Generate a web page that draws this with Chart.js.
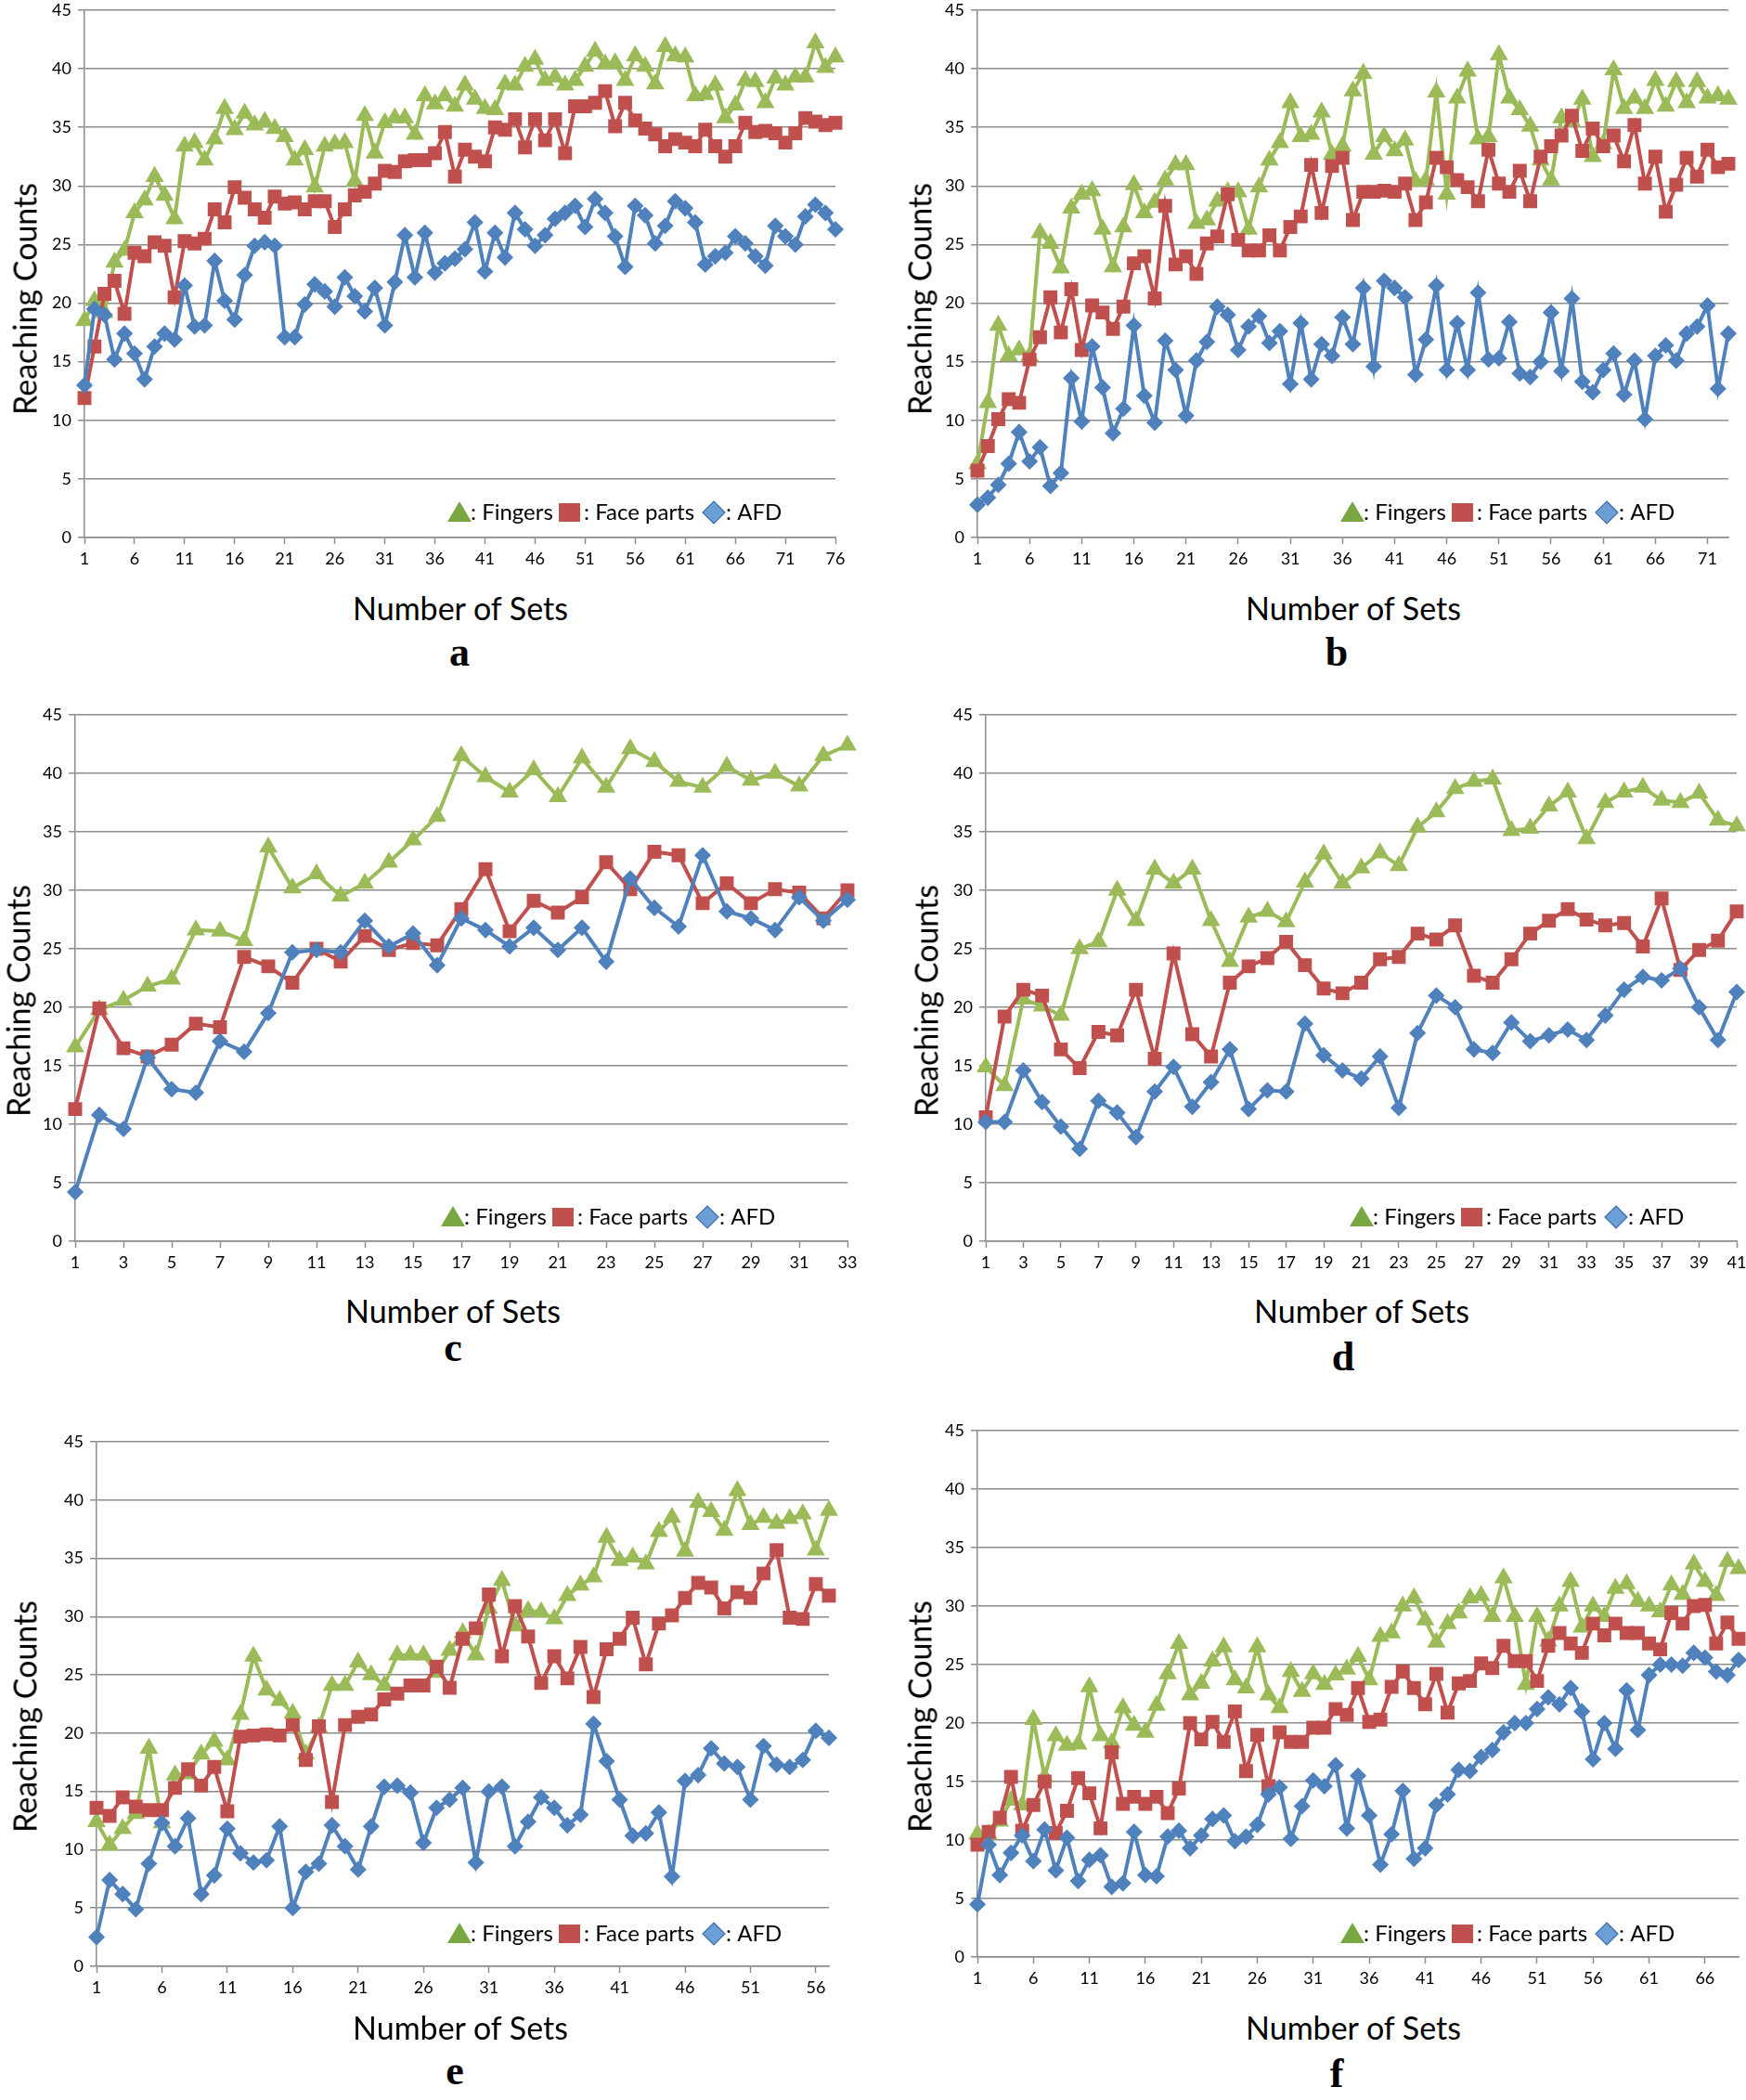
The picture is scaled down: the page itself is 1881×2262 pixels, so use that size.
<!DOCTYPE html>
<html>
<head>
<meta charset="utf-8">
<script src="https://cdn.jsdelivr.net/npm/chart.js@4.4.1/dist/chart.umd.min.js"></script>
<style>
  body { margin: 0; background: #fff; width: 1881px; height: 2262px; position: relative; overflow: hidden; font-family: Lato, sans-serif; }
  canvas { position: absolute; }
  .xtitle { position: absolute; font-size: 34px; color: #000; transform: translate(-50%, -50%); white-space: nowrap; }
  .ytitle { position: absolute; font-size: 34px; color: #000; transform: translate(-50%, -50%) rotate(-90deg); white-space: nowrap; }
  .letter { position: absolute; font: bold 44px "Liberation Serif", serif; transform: translate(-50%, -50%); }
</style>
</head>
<body>
<script>
// panel a
const aFingers = [18.5, 20.2, 19.2, 23.5, 24.5, 27.7, 28.8, 30.8, 29.2, 27.2,
  33.4, 33.7, 32.2, 34.0, 36.6, 34.8, 36.2, 35.2, 35.5, 34.9,
  34.2, 32.2, 33.1, 29.9, 33.4, 33.6, 33.7, 30.4, 36.0, 32.8,
  35.4, 35.8, 35.8, 34.4, 37.7, 37.0, 37.7, 36.8, 38.6, 37.4,
  36.6, 36.5, 38.7, 38.6, 40.2, 40.8, 39.0, 39.3, 38.6, 39.0,
  40.2, 41.5, 40.4, 40.5, 39.0, 41.1, 40.2, 38.7, 41.9, 41.1,
  41.0, 37.7, 37.8, 38.6, 35.8, 36.9, 39.0, 38.9, 37.1, 39.2,
  38.6, 39.3, 39.3, 42.2, 40.1, 41.0];
const aFace = [11.9, 16.3, 20.8, 21.9, 19.1, 24.3, 24.0, 25.2, 24.9, 20.5,
  25.3, 25.1, 25.5, 28.0, 26.9, 29.9, 29.0, 28.0, 27.3, 29.1,
  28.5, 28.6, 28.0, 28.7, 28.7, 26.5, 28.0, 29.2, 29.5, 30.2,
  31.3, 31.2, 32.1, 32.2, 32.2, 32.8, 34.6, 30.8, 33.1, 32.5,
  32.1, 35.0, 34.8, 35.7, 33.3, 35.7, 33.9, 35.7, 32.8, 36.8,
  36.8, 37.1, 38.1, 35.1, 37.1, 35.6, 34.9, 34.4, 33.4, 34.0,
  33.7, 33.4, 34.8, 33.4, 32.5, 33.4, 35.4, 34.6, 34.7, 34.5,
  33.7, 34.5, 35.8, 35.5, 35.2, 35.4];
const aAfd = [13.0, 19.5, 19.0, 15.2, 17.4, 15.7, 13.5, 16.3, 17.4, 16.9,
  21.5, 18.0, 18.1, 23.6, 20.2, 18.6, 22.4, 24.9, 25.2, 24.9,
  17.1, 17.1, 19.9, 21.6, 21.0, 19.7, 22.2, 20.6, 19.3, 21.3,
  18.1, 21.8, 25.8, 22.2, 26.0, 22.6, 23.4, 23.8, 24.6, 26.9,
  22.7, 26.0, 23.9, 27.7, 26.3, 24.9, 25.8, 27.2, 27.7, 28.3,
  26.5, 28.9, 27.7, 25.7, 23.1, 28.3, 27.5, 25.1, 26.6, 28.7,
  28.1, 26.9, 23.3, 24.0, 24.3, 25.7, 25.1, 24.0, 23.2, 26.6,
  25.7, 25.0, 27.4, 28.4, 27.7, 26.3];

// panel b
const bFingers = [6.3, 11.5, 18.1, 15.5, 16.0, 15.5, 26.0, 25.1, 23.0, 28.1,
  29.3, 29.6, 26.3, 23.1, 26.5, 30.1, 27.7, 28.6, 30.5, 31.8,
  31.8, 26.8, 27.1, 28.7, 29.5, 29.5, 26.3, 29.9, 32.2, 33.7,
  37.1, 34.2, 34.4, 36.3, 32.7, 33.4, 38.1, 39.6, 32.7, 34.2,
  33.0, 33.9, 30.4, 30.5, 38.0, 29.3, 37.5, 39.8, 34.0, 34.2,
  41.2, 37.5, 36.5, 35.1, 32.2, 30.5, 35.8, 35.5, 37.4, 32.5,
  33.6, 39.9, 36.6, 37.5, 36.6, 39.0, 36.8, 38.9, 37.1, 38.9,
  37.5, 37.7, 37.4];
const bFace = [5.7, 7.8, 10.1, 11.8, 11.5, 15.2, 17.1, 20.5, 17.5, 21.2,
  16.0, 19.8, 19.2, 17.8, 19.7, 23.4, 24.0, 20.4, 28.3, 23.3,
  24.0, 22.5, 25.1, 25.7, 29.3, 25.4, 24.5, 24.5, 25.8, 24.5,
  26.5, 27.4, 31.8, 27.7, 31.7, 32.4, 27.1, 29.5, 29.5, 29.6,
  29.5, 30.2, 27.1, 28.6, 32.4, 31.6, 30.5, 29.9, 28.7, 33.1,
  30.2, 29.5, 31.3, 28.7, 32.5, 33.4, 34.3, 36.0, 33.0, 34.9,
  33.4, 34.3, 32.1, 35.2, 30.2, 32.5, 27.8, 30.1, 32.4, 30.8,
  33.1, 31.6, 31.9];
const bAfd = [2.8, 3.4, 4.5, 6.3, 9.0, 6.5, 7.7, 4.4, 5.5, 13.6,
  9.9, 16.3, 12.8, 8.9, 11.0, 18.1, 12.1, 9.8, 16.8, 14.3,
  10.4, 15.1, 16.7, 19.7, 19.0, 16.0, 18.0, 18.9, 16.6, 17.6,
  13.1, 18.3, 13.5, 16.5, 15.5, 18.8, 16.5, 21.3, 14.6, 21.9,
  21.3, 20.5, 13.9, 16.9, 21.5, 14.3, 18.3, 14.3, 20.9, 15.2,
  15.3, 18.4, 14.0, 13.7, 15.0, 19.2, 14.2, 20.4, 13.3, 12.4,
  14.3, 15.7, 12.2, 15.1, 10.1, 15.5, 16.4, 15.1, 17.4, 18.0,
  19.8, 12.7, 17.4];

// panel c
const cFingers = [16.6, 19.8, 20.6, 21.8, 22.4, 26.6, 26.5, 25.7, 33.7, 30.2,
  31.4, 29.5, 30.6, 32.4, 34.3, 36.3, 41.5, 39.7, 38.4, 40.3,
  38.0, 41.3, 38.8, 42.1, 41.0, 39.3, 38.8, 40.6, 39.4, 40.0,
  38.9, 41.5, 42.4];
const cFace = [11.3, 19.9, 16.5, 15.8, 16.8, 18.6, 18.3, 24.3, 23.5, 22.1,
  25.0, 23.9, 26.1, 24.9, 25.5, 25.3, 28.4, 31.8, 26.5, 29.1,
  28.1, 29.4, 32.4, 30.1, 33.3, 33.0, 28.9, 30.6, 28.9, 30.1,
  29.8, 27.6, 30.0];
const cAfd = [4.2, 10.8, 9.6, 15.7, 13.0, 12.7, 17.1, 16.2, 19.5, 24.7,
  24.9, 24.7, 27.4, 25.2, 26.3, 23.6, 27.6, 26.6, 25.2, 26.8,
  24.9, 26.8, 23.9, 31.0, 28.5, 26.9, 33.0, 28.2, 27.6, 26.6,
  29.4, 27.4, 29.2];

// panel d
const dFingers = [14.9, 13.3, 20.7, 20.1, 19.3, 25.0, 25.6, 30.0, 27.4, 31.8,
  30.6, 31.8, 27.4, 23.9, 27.7, 28.2, 27.3, 30.7, 33.1, 30.6,
  31.9, 33.2, 32.1, 35.4, 36.7, 38.7, 39.3, 39.5, 35.1, 35.3,
  37.2, 38.4, 34.4, 37.5, 38.4, 38.8, 37.7, 37.5, 38.3, 36.0,
  35.5];
const dFace = [10.6, 19.2, 21.5, 21.0, 16.4, 14.8, 17.9, 17.6, 21.5, 15.6,
  24.6, 17.7, 15.8, 22.1, 23.5, 24.2, 25.6, 23.6, 21.6, 21.2,
  22.1, 24.1, 24.3, 26.3, 25.8, 27.0, 22.7, 22.1, 24.1, 26.3,
  27.4, 28.4, 27.5, 27.0, 27.2, 25.2, 29.3, 23.2, 24.9, 25.7,
  28.2];
const dAfd = [10.2, 10.2, 14.6, 11.9, 9.8, 7.9, 12.0, 11.0, 8.9, 12.8,
  14.9, 11.5, 13.6, 16.4, 11.3, 12.9, 12.8, 18.6, 15.9, 14.6,
  13.9, 15.8, 11.4, 17.8, 21.0, 20.0, 16.4, 16.1, 18.7, 17.1,
  17.6, 18.1, 17.2, 19.3, 21.5, 22.6, 22.3, 23.3, 20.0, 17.2,
  21.3];

// panel e
const eFingers = [12.4, 10.4, 11.8, 13.1, 18.7, 12.3, 16.4, 16.5, 18.2, 19.3,
  17.7, 21.6, 26.6, 23.7, 22.8, 21.7, 18.2, 20.5, 24.1, 24.1,
  26.1, 25.0, 24.1, 26.7, 26.7, 26.7, 25.2, 27.1, 28.6, 26.7,
  30.7, 33.1, 29.2, 30.5, 30.4, 29.8, 31.8, 32.7, 33.4, 36.8,
  34.8, 35.1, 34.5, 37.3, 38.5, 35.6, 39.8, 39.0, 37.4, 40.8,
  37.9, 38.5, 38.0, 38.4, 38.8, 35.7, 39.1];
const eFace = [13.6, 12.9, 14.5, 13.7, 13.4, 13.4, 15.3, 16.9, 15.5, 17.1,
  13.3, 19.7, 19.8, 19.9, 19.8, 20.7, 17.7, 20.6, 14.1, 20.7,
  21.4, 21.6, 22.9, 23.4, 24.1, 24.1, 25.7, 23.9, 28.1, 29.0,
  31.9, 26.6, 30.9, 28.3, 24.3, 26.6, 24.7, 27.4, 23.1, 27.2,
  28.1, 29.9, 25.9, 29.4, 30.1, 31.6, 32.9, 32.5, 30.7, 32.1,
  31.6, 33.7, 35.7, 29.9, 29.8, 32.8, 31.8];
const eAfd = [2.5, 7.4, 6.2, 4.9, 8.8, 12.3, 10.3, 12.7, 6.2, 7.8,
  11.8, 9.7, 8.9, 9.1, 12.0, 5.0, 8.1, 8.8, 12.1, 10.3,
  8.3, 12.0, 15.4, 15.5, 14.9, 10.6, 13.6, 14.3, 15.3, 8.9,
  15.0, 15.4, 10.3, 12.4, 14.5, 13.6, 12.1, 13.0, 20.8, 17.6,
  14.3, 11.2, 11.4, 13.2, 7.7, 15.9, 16.4, 18.7, 17.4, 17.1,
  14.3, 18.9, 17.3, 17.1, 17.7, 20.2, 19.6];

// panel f
const fFingers = [10.5, 10.5, 11.6, 13.4, 13.0, 20.3, 15.4, 18.9, 18.1, 18.2,
  23.1, 18.9, 18.3, 21.3, 19.8, 19.2, 21.5, 24.2, 26.8, 22.4,
  23.4, 25.3, 26.5, 23.7, 23.0, 26.5, 22.4, 21.3, 24.4, 22.7,
  24.2, 23.3, 24.1, 24.6, 25.7, 23.7, 27.4, 27.7, 30.0, 30.7,
  28.8, 26.9, 28.5, 29.4, 30.7, 30.9, 29.1, 32.4, 29.1, 23.3,
  29.1, 27.0, 30.0, 32.1, 28.2, 30.0, 29.1, 31.5, 31.9, 30.4,
  30.0, 29.5, 31.8, 31.0, 33.6, 32.1, 30.9, 33.8, 33.2];
const fFace = [9.6, 10.7, 11.9, 15.4, 10.8, 13.0, 15.0, 10.6, 12.5, 15.3,
  14.0, 11.0, 17.5, 13.1, 13.7, 13.1, 13.7, 12.3, 14.4, 20.0,
  18.6, 20.1, 18.4, 21.0, 15.9, 19.0, 14.6, 19.2, 18.4, 18.4,
  19.6, 19.6, 21.2, 20.7, 23.0, 20.1, 20.3, 23.1, 24.4, 23.0,
  21.6, 24.2, 20.9, 23.4, 23.6, 25.1, 24.7, 26.6, 25.3, 25.3,
  23.6, 26.6, 27.7, 26.8, 26.0, 28.5, 27.5, 28.5, 27.7, 27.7,
  26.8, 26.3, 29.4, 28.5, 30.0, 30.1, 26.8, 28.6, 27.2];
const fAfd = [4.5, 9.6, 7.0, 8.9, 10.4, 8.2, 10.9, 7.4, 10.2, 6.5,
  8.3, 8.7, 6.0, 6.3, 10.7, 7.0, 6.9, 10.3, 10.8, 9.3,
  10.4, 11.8, 12.1, 9.9, 10.3, 11.3, 13.9, 14.5, 10.1, 12.9,
  15.1, 14.6, 16.4, 11.0, 15.5, 12.1, 7.9, 10.5, 14.2, 8.4,
  9.3, 13.0, 13.9, 16.0, 15.9, 17.1, 17.7, 19.2, 20.0, 20.0,
  21.2, 22.2, 21.6, 23.0, 21.0, 16.9, 20.0, 17.8, 22.8, 19.4,
  24.1, 25.0, 25.0, 24.9, 26.0, 25.6, 24.4, 24.1, 25.4];

const yTicks = [0, 5, 10, 15, 20, 25, 30, 35, 40, 45];
const seriesNames = ["Fingers", "Face parts", "AFD"];
const xTitle = "Number of Sets";
const yTitle = "Reaching Counts";

const GREEN = "#9bbb59";
const RED = "#c0504d";
const BLUE = "#4f81bd";
const GRID = "#8c8c8c";

Chart.defaults.font.family = "Lato, sans-serif";

// plot box = chart area in page pixels
const panels = [
  { letter: "a", fingers: aFingers, face: aFace, afd: aAfd, step: 5,
    box: { l: 91, t: 11, r: 900, b: 579 }, legend: { x: 495, y: 552 },
    xt: { x: 496, y: 654 }, yt: { x: 26, y: 322 }, lt: { x: 495, y: 702 } },
  { letter: "b", fingers: bFingers, face: bFace, afd: bAfd, step: 5,
    box: { l: 1053, t: 11, r: 1862, b: 579 }, legend: { x: 1457, y: 552 },
    xt: { x: 1458, y: 654 }, yt: { x: 990, y: 322 }, lt: { x: 1440, y: 702 } },
  { letter: "c", fingers: cFingers, face: cFace, afd: cAfd, step: 2,
    box: { l: 81, t: 770, r: 913, b: 1337 }, legend: { x: 488, y: 1311 },
    xt: { x: 488, y: 1411 }, yt: { x: 19, y: 1078 }, lt: { x: 488, y: 1451 } },
  { letter: "d", fingers: dFingers, face: dFace, afd: dAfd, step: 2,
    box: { l: 1062, t: 770, r: 1871, b: 1337 }, legend: { x: 1467, y: 1311 },
    xt: { x: 1467, y: 1411 }, yt: { x: 997, y: 1078 }, lt: { x: 1447, y: 1461 } },
  { letter: "e", fingers: eFingers, face: eFace, afd: eAfd, step: 5,
    box: { l: 104, t: 1553, r: 893, b: 2118 }, legend: { x: 495, y: 2083 },
    xt: { x: 496, y: 2183 }, yt: { x: 26, y: 1849 }, lt: { x: 490, y: 2230 } },
  { letter: "f", fingers: fFingers, face: fFace, afd: fAfd, step: 5,
    box: { l: 1053, t: 1541, r: 1873, b: 2108 }, legend: { x: 1457, y: 2083 },
    xt: { x: 1458, y: 2183 }, yt: { x: 990, y: 1849 }, lt: { x: 1440, y: 2233 } },
];

// legend drawn inside the plot area, like the original
const insideLegend = {
  id: "insideLegend",
  afterDatasetsDraw(chart, args, opts) {
    const ctx = chart.ctx;
    const x = opts.x, y = opts.y;
    ctx.save();
    ctx.font = "24px Lato, sans-serif";
    ctx.textBaseline = "middle";

    ctx.beginPath();
    ctx.moveTo(x, y - 12);
    ctx.lineTo(x + 13, y + 10);
    ctx.lineTo(x - 13, y + 10);
    ctx.closePath();
    ctx.fillStyle = "#78a640";
    ctx.fill();
    ctx.fillStyle = "#000";
    ctx.fillText(": " + seriesNames[0], x + 12, y);

    ctx.fillStyle = RED;
    ctx.fillRect(x + 107, y - 10, 23, 20);
    ctx.fillStyle = "#000";
    ctx.fillText(": " + seriesNames[1], x + 134, y);

    ctx.beginPath();
    ctx.moveTo(x + 274, y - 12);
    ctx.lineTo(x + 286, y);
    ctx.lineTo(x + 274, y + 12);
    ctx.lineTo(x + 262, y);
    ctx.closePath();
    ctx.fillStyle = "#6c9fd8";
    ctx.fill();
    ctx.strokeStyle = "#3e6da6";
    ctx.lineWidth = 1.2;
    ctx.stroke();
    ctx.fillStyle = "#000";
    ctx.fillText(": " + seriesNames[2], x + 287, y);
    ctx.restore();
  },
};

function addText(cls, text, pos) {
  const el = document.createElement("div");
  el.className = cls;
  el.textContent = text;
  el.style.left = pos.x + "px";
  el.style.top = pos.y + "px";
  document.body.appendChild(el);
}

function makePanel(p) {
  const padL = 80, padT = 20, padR = 25, padB = 50;
  const w = (p.box.r - p.box.l) + padL + padR;
  const h = (p.box.b - p.box.t) + padT + padB;
  const canvas = document.createElement("canvas");
  canvas.width = w;
  canvas.height = h;
  canvas.style.left = (p.box.l - padL) + "px";
  canvas.style.top = (p.box.t - padT) + "px";
  canvas.style.width = w + "px";
  canvas.style.height = h + "px";
  document.body.appendChild(canvas);

  const labels = p.fingers.map((v, i) => String(i + 1));
  const line = (data, color, style, radius, order) => ({
    data: data,
    borderColor: color,
    backgroundColor: color,
    borderWidth: 4,
    pointStyle: style,
    pointRadius: radius,
    pointBorderWidth: 1.5,
    pointBackgroundColor: color,
    pointBorderColor: color,
    tension: 0,
    order: order,
  });

  new Chart(canvas, {
    type: "line",
    data: {
      labels: labels,
      datasets: [
        line(p.fingers, GREEN, "triangle", 10, 3),
        line(p.face, RED, "rect", 9.5, 2),
        line(p.afd, BLUE, "rectRot", 8, 1),
      ],
    },
    options: {
      responsive: false,
      animation: false,
      devicePixelRatio: 1,
      layout: { padding: { left: 0, top: padT, right: padR, bottom: 0 } },
      plugins: {
        legend: { display: false },
        tooltip: { enabled: false },
        insideLegend: { x: p.legend.x - p.box.l + padL, y: p.legend.y - p.box.t + padT },
      },
      scales: {
        x: {
          type: "category",
          offset: false,
          afterFit: (s) => { s.height = padB; },
          grid: {
            drawOnChartArea: false,
            drawTicks: true,
            tickLength: 7,
            tickWidth: 1.5,
            tickColor: (ctx) => (ctx.index % p.step === 0 ? GRID : "rgba(0,0,0,0)"),
          },
          border: { color: GRID, width: 1.5 },
          ticks: {
            autoSkip: false,
            maxRotation: 0,
            padding: 5,
            color: "#000",
            font: { size: 18 },
            callback: (val, idx) => (idx % p.step === 0 ? labels[idx] : ""),
          },
        },
        y: {
          min: yTicks[0],
          max: yTicks[yTicks.length - 1],
          afterFit: (s) => { s.width = padL; },
          afterBuildTicks: (s) => { s.ticks = yTicks.map((v) => ({ value: v })); },
          grid: { color: GRID, lineWidth: 1.5, tickLength: 7 },
          border: { color: GRID, width: 1.5 },
          ticks: { padding: 7, color: "#000", font: { size: 18 } },
        },
      },
    },
    plugins: [insideLegend],
  });

  addText("xtitle", xTitle, p.xt);
  addText("ytitle", yTitle, p.yt);
  addText("letter", p.letter, p.lt);
}

panels.forEach(makePanel);
</script>
</body>
</html>
